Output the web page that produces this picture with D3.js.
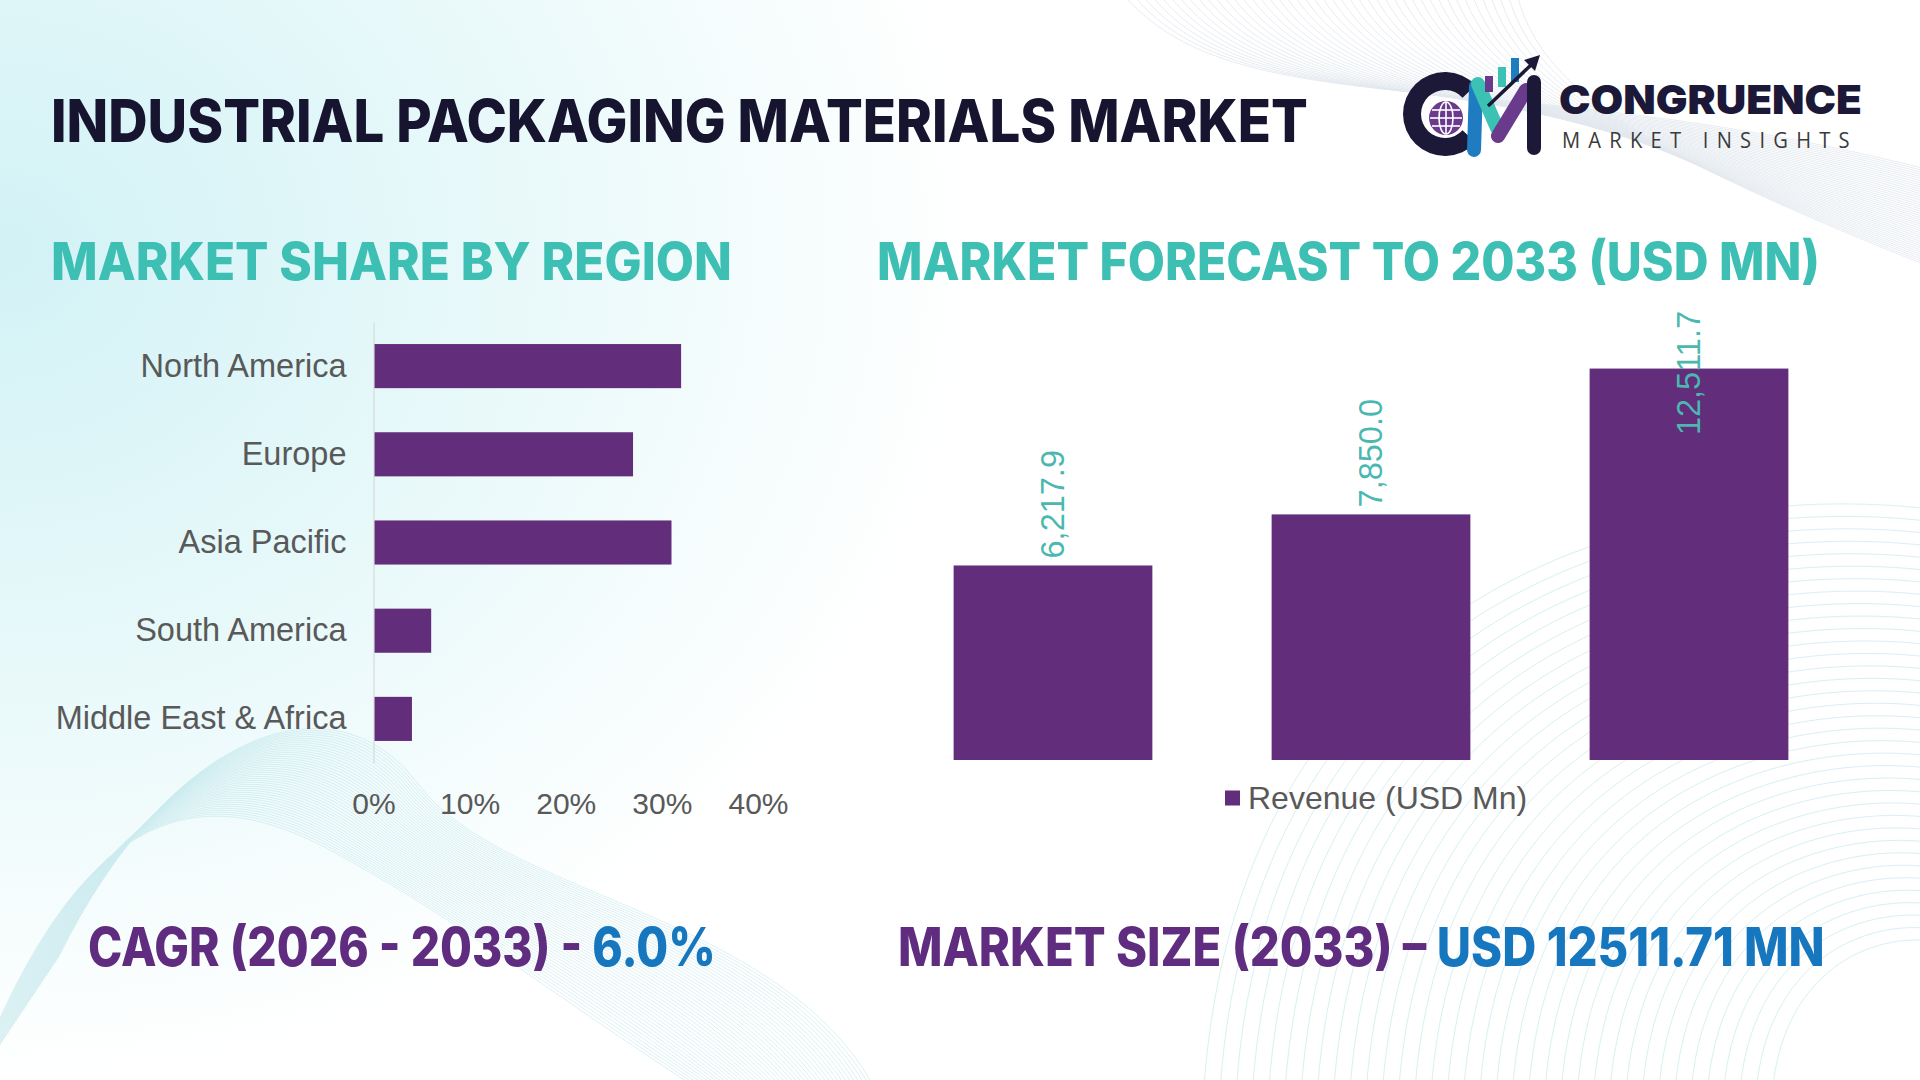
<!DOCTYPE html>
<html>
<head>
<meta charset="utf-8">
<script src="https://cdn.jsdelivr.net/npm/d3@7"></script>
<style>
    body { margin: 0; background: #fff; }
    svg { display: block; }
</style>
</head>
<body>
<div id="chart"></div>
<script>
// data
var regions = ["North America", "Europe", "Asia Pacific", "South America", "Middle East & Africa"];
var regionShare = [32, 27, 31, 6, 4];
var shareTicks = [0, 10, 20, 30, 40];

var years = ["2021", "2025", "2033"];
var revenue = [6217.9, 7850.0, 12511.7];
var revenueMax = 14000;

var W = 1920, H = 1080;
var purple = "#622d7a",
    teal = "#3dbfb4",
    tealLabel = "#4ab8b0",
    navy = "#16142f",
    grey = "#595959";

var svg = d3.select("#chart").append("svg")
    .attr("width", W)
    .attr("height", H);

var defs = svg.append("defs");
var glow = defs.append("radialGradient")
    .attr("id", "bgGlow")
    .attr("gradientUnits", "userSpaceOnUse")
    .attr("cx", 0).attr("cy", 250).attr("r", 1150)
    .attr("gradientTransform", "translate(0,250) scale(1,0.85) translate(0,-250)");
glow.append("stop").attr("offset", "0%").attr("stop-color", "#d2f2f6");
glow.append("stop").attr("offset", "45%").attr("stop-color", "#e9f9fa");
glow.append("stop").attr("offset", "85%").attr("stop-color", "#ffffff");

svg.append("rect").attr("width", W).attr("height", H).attr("fill", "#fff");
svg.append("rect").attr("width", W).attr("height", H).attr("fill", "url(#bgGlow)");

// ---------- decorative wave meshes ----------
var deco = svg.append("g").attr("fill", "none");

// bottom left lobe
var bl = deco.append("g").attr("stroke", "#a9dde5").attr("stroke-width", 0.8).attr("opacity", 0.5);
for (var i = 0; i < 45; i++) {
    bl.append("path").attr("d",
        "M" + (-30 + i * 2) + "," + (1090 - i * 3) +
        " C" + (80 + i * 2) + "," + (800 - i * 1.5) + " " + (200 + i * 3) + "," + (780 - i * 2.5) + " " + (330 + i * 2) + "," + (850 - i * 1.5) +
        " S" + (560 + i * 5) + "," + (1000 - i * 2) + " " + (700 + i * 4) + ",1090");
}
// bottom right arcs
var br = deco.append("g").attr("stroke", "#b8e3ea").attr("stroke-width", 0.9).attr("opacity", 0.6);
for (var j = 0; j < 36; j++) {
    var r = 150 + j * 13;
    br.append("path").attr("d",
        "M" + (1960 - r * 1.25) + ",1090" +
        " C" + (1965 - r * 1.2) + "," + (1090 - r * 0.85) + " " + (1950 - r * 0.45) + "," + (1080 - r * 1.0) + " " + 1940 + "," + (1085 - r * 0.95));
}
// top right mesh
var tr = deco.append("g").attr("stroke", "#b7c6d6").attr("stroke-width", 0.8).attr("opacity", 0.4);
for (var k = 0; k < 45; k++) {
    tr.append("path").attr("d",
        "M" + (1120 + k * 9) + ",-10" +
        " C" + (1230 + k * 7) + "," + (130 - k) + " " + (1500 + k * 3) + "," + (60 + k * 2) + " " + 1930 + "," + (170 + k * 2.2));
}

// ---------- helper: stretch a text to a given left/right span ----------
function fitWidth(sel, x0, x1) {
    var bb = sel.node().getBBox();
    var k = (x1 - x0) / bb.width;
    sel.attr("transform", "translate(" + x0 + ",0) scale(" + k + ",1) translate(" + (-bb.x) + ",0)");
}

var heavy = "Inter, 'Open Sans', sans-serif";
var plain = "'Liberation Sans', Arial, sans-serif";

// ---------- title ----------
var title = svg.append("text")
    .attr("x", 0).attr("y", 142)
    .style("font-family", heavy).style("font-weight", 800).style("font-size", "59px")
    .attr("fill", navy)
    .text("INDUSTRIAL PACKAGING MATERIALS MARKET");
fitWidth(title, 51, 1308);

// ---------- logo ----------
var logo = svg.append("g").attr("class", "logo");
var ring = d3.arc().innerRadius(24).outerRadius(42).startAngle(0.75).endAngle(2 * Math.PI - 0.75);
logo.append("path").attr("d", ring()).attr("transform", "translate(1445,114) rotate(90)").attr("fill", "#1b1838");
logo.append("circle").attr("cx", 1446).attr("cy", 118).attr("r", 17).attr("fill", "#6a3a8c");
var globe = logo.append("g").attr("stroke", "#fff").attr("stroke-width", 1.6).attr("fill", "none");
globe.append("ellipse").attr("cx", 1446).attr("cy", 118).attr("rx", 7).attr("ry", 16);
globe.append("line").attr("x1", 1446).attr("x2", 1446).attr("y1", 102).attr("y2", 134);
globe.append("line").attr("x1", 1430).attr("x2", 1462).attr("y1", 118).attr("y2", 118);
globe.append("line").attr("x1", 1432).attr("x2", 1460).attr("y1", 110).attr("y2", 110);
globe.append("line").attr("x1", 1432).attr("x2", 1460).attr("y1", 126).attr("y2", 126);
var mStroke = logo.append("g").attr("stroke-linecap", "round").attr("fill", "none");
mStroke.append("line").attr("x1", 1474).attr("y1", 150).attr("x2", 1476).attr("y2", 86).attr("stroke", "#1f7cc0").attr("stroke-width", 14);
mStroke.append("line").attr("x1", 1478).attr("y1", 84).attr("x2", 1497).attr("y2", 128).attr("stroke", "#3cc2b5").attr("stroke-width", 14);
mStroke.append("line").attr("x1", 1498).attr("y1", 136).attr("x2", 1526).attr("y2", 90).attr("stroke", "#6a3a8c").attr("stroke-width", 14);
mStroke.append("line").attr("x1", 1534).attr("y1", 82).attr("x2", 1534).attr("y2", 148).attr("stroke", "#1b1838").attr("stroke-width", 14);
logo.append("rect").attr("x", 1485).attr("y", 76).attr("width", 8).attr("height", 16).attr("fill", "#6a3a8c");
logo.append("rect").attr("x", 1498).attr("y", 67).attr("width", 8).attr("height", 20).attr("fill", "#3cc2b5");
logo.append("rect").attr("x", 1511).attr("y", 58).attr("width", 8).attr("height", 24).attr("fill", "#1f7cc0");
logo.append("path").attr("d", "M1488,106 L1532,64").attr("stroke", "#1b1838").attr("stroke-width", 3.5).attr("fill", "none");
logo.append("path").attr("d", "M1540,55 L1524,60 L1535,71 Z").attr("fill", "#1b1838");

var brand = logo.append("text")
    .attr("x", 0).attr("y", 114)
    .style("font-family", heavy).style("font-weight", 900).style("font-size", "40px")
    .attr("fill", "#1b1838")
    .text("CONGRUENCE");
fitWidth(brand, 1559, 1862);
var sub = logo.append("text")
    .attr("x", 0).attr("y", 148)
    .style("font-family", "'Open Sans', sans-serif").style("font-weight", 400).style("font-size", "22px")
    .style("letter-spacing", "9px")
    .attr("fill", "#3a3a3a")
    .text("MARKET INSIGHTS");
fitWidth(sub, 1562, 1858);

// ---------- section headings ----------
var h1 = svg.append("text")
    .attr("x", 0).attr("y", 280)
    .style("font-family", heavy).style("font-weight", 800).style("font-size", "52px")
    .attr("fill", teal)
    .text("MARKET SHARE BY REGION");
fitWidth(h1, 51, 732);

var h2 = svg.append("text")
    .attr("x", 0).attr("y", 280)
    .style("font-family", heavy).style("font-weight", 800).style("font-size", "52px")
    .attr("fill", teal)
    .text("MARKET FORECAST TO 2033 (USD MN)");
fitWidth(h2, 877, 1820);

// ---------- left: share by region ----------
var shareData = regions.map(function(name, i) { return { region: name, share: regionShare[i] }; });

var x = d3.scaleLinear().domain([0, 40]).range([373.5, 758]);
var y = d3.scaleBand().domain(regions).range([322, 763]).paddingInner(0.5).paddingOuter(0.25);

var left = svg.append("g").attr("class", "share");

left.selectAll(".bar")
    .data(shareData)
    .enter().append("rect")
    .attr("class", "bar")
    .attr("x", x(0) + 0.5)
    .attr("y", function(d) { return y(d.region); })
    .attr("width", function(d) { return x(d.share) - x(0) - 0.5; })
    .attr("height", y.bandwidth())
    .attr("fill", purple);

var yAxis = left.append("g")
    .attr("transform", "translate(" + x(0) + ",0)")
    .call(d3.axisLeft(y).tickSize(0).tickSizeOuter(0).tickPadding(27));
yAxis.select(".domain").attr("stroke", "#d9d9d9").attr("stroke-width", 1.2);
yAxis.selectAll("text")
    .style("font-family", plain).style("font-size", "32.5px")
    .attr("fill", grey);

var xAxis = left.append("g")
    .attr("transform", "translate(0,803)")
    .call(d3.axisBottom(x).tickValues(shareTicks).tickFormat(function(d) { return d + "%"; }).tickSize(0).tickPadding(0));
xAxis.select(".domain").remove();
xAxis.selectAll("text")
    .attr("y", 0).attr("dy", "0.35em")
    .style("font-family", plain).style("font-size", "30px")
    .attr("fill", grey);

// ---------- right: forecast ----------
var revData = years.map(function(yr, i) { return { year: yr, value: revenue[i] }; });

var x2 = d3.scaleBand().domain(years).range([894, 1848]).paddingInner(0.375).paddingOuter(0.1875);
var y2 = d3.scaleLinear().domain([0, revenueMax]).range([760, 322]);

var right = svg.append("g").attr("class", "forecast");

right.selectAll(".bar")
    .data(revData)
    .enter().append("rect")
    .attr("class", "bar")
    .attr("x", function(d) { return x2(d.year); })
    .attr("y", function(d) { return y2(d.value); })
    .attr("width", x2.bandwidth())
    .attr("height", function(d) { return y2(0) - y2(d.value); })
    .attr("fill", purple);

var fmt = d3.format(",.1f");
var labelTop = 311; // labels can't go past the plot area top, so the tall one is pushed into its bar
right.selectAll(".val")
    .data(revData)
    .enter().append("text")
    .attr("class", "val")
    .style("font-family", plain).style("font-size", "32.5px")
    .attr("fill", tealLabel)
    .attr("dy", "0.35em")
    .text(function(d) { return fmt(d.value); })
    .attr("transform", function(d) {
        var len = this.getComputedTextLength();
        var yy = y2(d.value) - 7;
        if (yy - len < labelTop) yy = labelTop + len;
        return "translate(" + (x2(d.year) + x2.bandwidth() / 2) + "," + yy + ") rotate(-90)";
    });

// legend
var legend = right.append("g").attr("transform", "translate(1225,798)");
legend.append("rect").attr("x", 0).attr("y", -7.5).attr("width", 15).attr("height", 15).attr("fill", purple);
legend.append("text")
    .attr("x", 23).attr("dy", "0.35em")
    .style("font-family", plain).style("font-size", "32px")
    .attr("fill", grey)
    .text("Revenue (USD Mn)");

// ---------- bottom stats ----------
var cagr = svg.append("text")
    .attr("x", 0).attr("y", 966)
    .style("font-family", heavy).style("font-weight", 800).style("font-size", "53px");
cagr.append("tspan").attr("fill", "#5f2c7f").text("CAGR (2026 - 2033) - ");
cagr.append("tspan").attr("fill", "#1677bf").text("6.0%");
fitWidth(cagr, 88, 716);

var size = svg.append("text")
    .attr("x", 0).attr("y", 966)
    .style("font-family", heavy).style("font-weight", 800).style("font-size", "53px");
size.append("tspan").attr("fill", "#5f2c7f").text("MARKET SIZE (2033) – ");
size.append("tspan").attr("fill", "#1677bf").text("USD 12511.71 MN");
fitWidth(size, 898, 1825);
</script>
</body>
</html>
